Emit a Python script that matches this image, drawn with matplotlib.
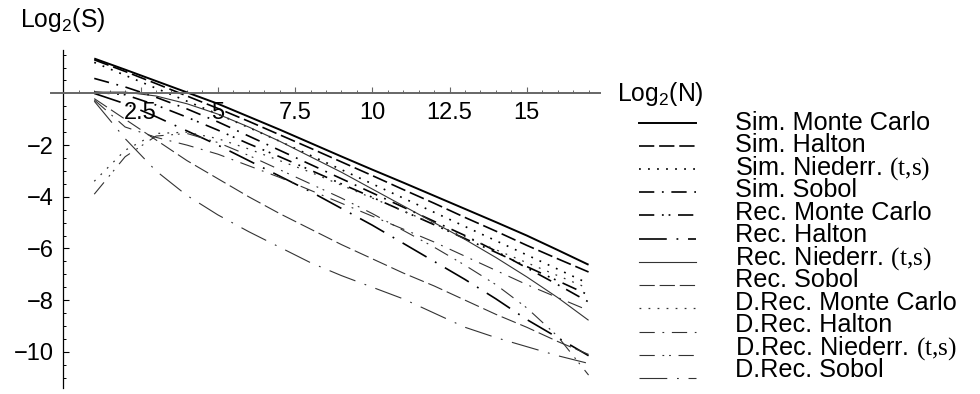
import matplotlib
matplotlib.use("Agg")
import matplotlib.pyplot as plt
from matplotlib.lines import Line2D
from matplotlib.ticker import FixedLocator, MultipleLocator, FixedFormatter

# log2(N) sample points
log2_n = list(range(1, 18))

# log2(S) per method
sim_monte_carlo = [1.35, 0.92, 0.48, 0.04, -0.40, -0.90, -1.40, -1.92, -2.44, -2.95, -3.45, -3.96, -4.47, -4.98, -5.50, -6.06, -6.63]
sim_halton      = [1.30, 0.85, 0.38, -0.10, -0.58, -1.08, -1.60, -2.12, -2.65, -3.18, -3.72, -4.25, -4.80, -5.33, -5.88, -6.40, -6.91]
sim_niederr     = [1.20, 0.70, 0.20, -0.30, -0.80, -1.32, -1.85, -2.40, -2.95, -3.50, -4.05, -4.60, -5.15, -5.70, -6.25, -6.80, -7.36]
sim_sobol       = [0.58, 0.25, -0.15, -0.60, -1.10, -1.65, -2.20, -2.75, -3.30, -3.85, -4.40, -4.95, -5.50, -6.10, -6.75, -7.40, -8.07]
rec_monte_carlo = [0.05, -0.05, -0.45, -0.92, -1.42, -1.95, -2.45, -2.97, -3.50, -4.02, -4.55, -5.08, -5.62, -6.15, -6.70, -7.25, -7.80]
rec_halton      = [0.00, -0.40, -0.90, -1.45, -2.00, -2.60, -3.20, -3.80, -4.45, -5.10, -5.80, -6.50, -7.20, -7.95, -8.75, -9.45, -10.15]
rec_niederr     = [0.05, 0.05, -0.10, -0.40, -0.80, -1.30, -1.85, -2.45, -3.05, -3.70, -4.35, -5.00, -5.65, -6.35, -7.10, -7.90, -8.78]
rec_sobol       = [-0.20, -1.00, -1.80, -2.60, -3.30, -4.00, -4.65, -5.25, -5.85, -6.40, -6.95, -7.45, -8.00, -8.55, -9.05, -9.60, -10.10]
drec_monte_carlo = [-3.40, -2.20, -1.55, -1.50, -1.75, -2.15, -2.60, -3.05, -3.55, -4.05, -4.55, -5.05, -5.55, -6.05, -6.55, -7.05, -7.55]
drec_halton     = [-0.25, -1.30, -1.70, -2.00, -2.35, -2.80, -3.25, -3.75, -4.25, -4.75, -5.25, -5.75, -6.30, -6.85, -7.40, -7.90, -8.40]
drec_niederr    = [-3.90, -2.45, -1.65, -1.55, -1.90, -2.40, -2.95, -3.50, -4.05, -4.65, -5.30, -5.95, -6.65, -7.40, -8.30, -9.40, -10.90]
drec_sobol      = [-0.30, -1.75, -3.00, -3.95, -4.70, -5.35, -5.95, -6.55, -7.05, -7.50, -7.95, -8.50, -9.05, -9.45, -9.80, -10.15, -10.45]

series = [sim_monte_carlo, sim_halton, sim_niederr, sim_sobol, rec_monte_carlo, rec_halton,
          rec_niederr, rec_sobol, drec_monte_carlo, drec_halton, drec_niederr, drec_sobol]
labels = ["Sim. Monte Carlo", "Sim. Halton", r"Sim. Niederr. $\mathrm{(t{,}s)}$", "Sim. Sobol",
          "Rec. Monte Carlo", "Rec. Halton", r"Rec. Niederr. $\mathrm{(t{,}s)}$", "Rec. Sobol",
          "D.Rec. Monte Carlo", "D.Rec. Halton", r"D.Rec. Niederr. $\mathrm{(t{,}s)}$", "D.Rec. Sobol"]

x_ticks = [2.5, 5, 7.5, 10, 12.5, 15]
x_tick_labels = ["2.5", "5", "7.5", "10", "12.5", "15"]
y_ticks = [-10, -8, -6, -4, -2]

plt.rcParams["font.family"] = ["Liberation Sans", "DejaVu Sans"]
plt.rcParams["mathtext.fontset"] = "custom"
plt.rcParams["mathtext.rm"] = "Liberation Serif"
plt.rcParams["lines.scale_dashes"] = False

# line styles in points (1 pt = 1.39 px here)
dash = (0, (11, 3.5))
dot = (0, (1.3, 5.2))
dash_dot = (0, (11, 5.5, 1.3, 5.5))
dash_dot_dot = (0, (11, 5.5, 1.3, 3.5, 1.3, 5.5))
long_dash_dot = (0, (20, 7, 1.3, 7))
styles = [
    ("-", "black", 1.4), (dash, "black", 1.2), (dot, "black", 1.2),
    (dash_dot, "black", 1.2), (dash_dot_dot, "black", 1.2), (long_dash_dot, "black", 1.2),
    ("-", "#333333", 0.8), (dash, "#333333", 0.8), (dot, "#333333", 0.9),
    (dash_dot, "#333333", 0.8), (dash_dot_dot, "#333333", 0.8), (long_dash_dot, "#333333", 0.8),
]

W, H = 980, 394
fig = plt.figure(figsize=(W / 100, H / 100), dpi=100)
ax = fig.add_axes([51 / W, 6 / H, 549 / W, 338 / H])
ax.set_xlim(-0.4, 17.37)
ax.set_ylim(-11.4, 1.68)

for ys, (ls, col, lw) in zip(series, styles):
    ax.plot(log2_n, ys, linestyle=ls, color=col, linewidth=lw, solid_capstyle="butt", dash_capstyle="butt")

# Mathematica-style axes crossing at the origin
for side in ["top", "right"]:
    ax.spines[side].set_visible(False)
ax.spines["left"].set_position(("data", 0))
ax.spines["bottom"].set_position(("data", 0))
ax.spines["bottom"].set_color("#666666")
ax.spines["bottom"].set_linewidth(1.4)
ax.spines["left"].set_linewidth(0.9)

ax.xaxis.set_major_locator(FixedLocator(x_ticks))
ax.xaxis.set_major_formatter(FixedFormatter(x_tick_labels))
ax.xaxis.set_minor_locator(MultipleLocator(0.5))
ax.yaxis.set_major_locator(FixedLocator(y_ticks))
ax.yaxis.set_minor_locator(MultipleLocator(0.5))
ax.yaxis.set_major_formatter(FixedFormatter(["\u221210", "\u22128", "\u22126", "\u22124", "\u22122"]))
ax.tick_params(which="major", direction="in", length=4, width=0.8, labelsize=17, colors="black")
ax.tick_params(which="minor", direction="in", length=2.5, width=0.7)
ax.tick_params(axis="x", which="major", pad=6)
ax.tick_params(axis="y", which="major", pad=7)
ax.tick_params(axis="x", which="both", color="#666666")

fig.text(20 / W, 1 - 26.7 / H, r"Log$_\mathregular{2}$(S)", fontsize=17.8, va="baseline", ha="left")
fig.text(617 / W, 1 - 100.5 / H, r"Log$_\mathregular{2}$(N)", fontsize=17.8, va="baseline", ha="left")

# legend: samples and labels stacked tightly as in the original
for i, (label, (ls, col, lw)) in enumerate(zip(labels, styles)):
    y_line = 122.7 + 23.2 * i
    fig.add_artist(Line2D([639 / W, 696 / W], [1 - y_line / H, 1 - y_line / H],
                          transform=fig.transFigure, linestyle=ls, color=col, linewidth=lw))
    fig.text(735 / W, 1 - (129.5 + 22.5 * i) / H, label, fontsize=18.2, va="baseline", ha="left")

fig.savefig("out.png", dpi=100)
